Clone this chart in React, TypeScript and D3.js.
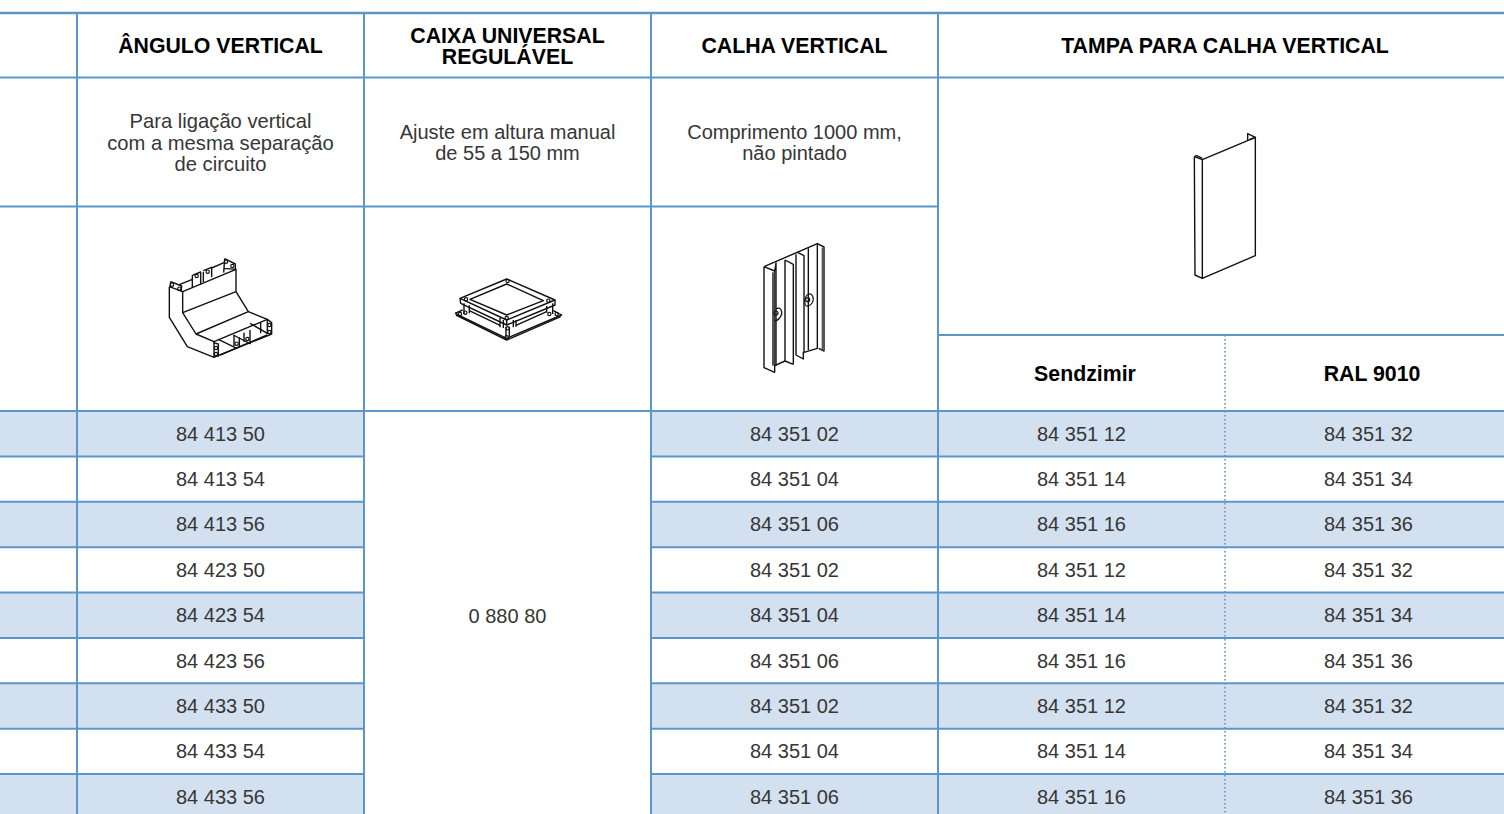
import { useEffect, useRef } from "react";
import * as d3 from "d3";

const WIDTH = 1504;
const HEIGHT = 814;
const LINE = "#5b96c8";
const STRIPE = "#d3e0ef";
const FONT = "'Liberation Sans', Arial, sans-serif";

const columnKeys = ["blank", "angulo", "caixa", "calha", "sendzimir", "ral"];
const anguloCodes = ["84 413 50", "84 413 54", "84 413 56", "84 423 50", "84 423 54", "84 423 56", "84 433 50", "84 433 54", "84 433 56"];
const calhaCodes = ["84 351 02", "84 351 04", "84 351 06", "84 351 02", "84 351 04", "84 351 06", "84 351 02", "84 351 04", "84 351 06"];
const sendzimirCodes = ["84 351 12", "84 351 14", "84 351 16", "84 351 12", "84 351 14", "84 351 16", "84 351 12", "84 351 14", "84 351 16"];
const ralCodes = ["84 351 32", "84 351 34", "84 351 36", "84 351 32", "84 351 34", "84 351 36", "84 351 32", "84 351 34", "84 351 36"];
const caixaCode = "0 880 80";

const angleHeader = "ÂNGULO VERTICAL";
const caixaHeader = ["CAIXA UNIVERSAL", "REGULÁVEL"];
const calhaHeader = "CALHA VERTICAL";
const tampaHeader = "TAMPA PARA CALHA VERTICAL";
const angleNote = ["Para ligação vertical", "com a mesma separação", "de circuito"];
const caixaNote = ["Ajuste em altura manual", "de 55 a 150 mm"];
const calhaNote = ["Comprimento 1000 mm,", "não pintado"];
const subHeaders = ["Sendzimir", "RAL 9010"];

// product line drawings at 3x
const iconAngulo = [
  "M118,140 L118,232 L172,320 L252,352 L252,305 L198,282 L158,218 L158,155 L118,140",
  "M158,155 L318,88 L318,155 L355,215 L198,282",
  "M158,218 L318,155",
  "M122,125 L155,138 L153,155 M122,125 L120,142",
  "M148,134 L187,118 L187,142 M187,106 L187,118 M187,106 L212,96 L212,132",
  "M220,95 L220,126 M220,92 L245,82 L245,112 M245,84 L282,68",
  "M284,56 L316,72 L316,90 M284,56 L281,98 M281,85 L318,88",
  "M252,305 L412,238 L412,282 M355,215 L412,238 M252,352 L425,282 L425,248 L412,238",
  "M250,308 L265,312 L265,350 M265,298 L322,326 M310,285 L362,312 M360,250 L412,280",
  "M312,285 L312,318 M328,292 L328,322 M342,278 L342,305 M360,270 L360,312 M392,248 L392,280",
  "M270,345 L412,285",
];
const iconAnguloHoles = [[126, 134], [148, 146], [200, 108], [233, 95], [288, 65], [307, 78], [258, 324], [258, 342], [320, 311], [352, 297], [418, 255], [418, 276]];

const iconCaixa = [
  "M60,85 L200,27 L345,90 L200,150 Z",
  "M90,88 L200,42 L310,92 L200,135 Z",
  "M60,85 L62,100 L200,165 L345,105 L345,90",
  "M200,150 L200,165",
  "M72,100 L72,132 M88,106 L88,130 M88,122 L180,166",
  "M228,150 L228,170 M320,108 L320,128 M338,100 L338,132 M228,166 L320,125",
  "M180,144 L180,172 M190,150 L190,174 M220,150 L220,172",
  "M45,130 L68,120 M45,130 L200,205 L365,135 L340,122",
  "M48,135 L200,210 L362,140",
  "M198,170 L198,200 M208,170 L208,200",
];
const iconCaixaHoles = [[203, 33], [78, 88], [325, 92], [200, 144], [76, 128], [328, 132], [203, 175], [60, 132], [350, 132], [200, 202]];

const iconCalha = [
  "M72,95 L232,26 L252,36 L252,348 L236,340",
  "M232,26 L232,340 L192,352",
  "M72,95 L72,398 L104,412 L104,108 L72,95",
  "M104,108 L108,84 L108,392",
  "M104,392 L135,378 L160,388 M135,75 L135,378 M135,75 L160,88 L160,388",
  "M168,58 L168,360 L190,372 L190,350 M172,52 L192,62 L192,352",
  "M205,40 L205,345",
];
const iconCalhaThick = ["M100,112 L100,392", "M249,38 L249,346"];
const iconCalhaHoles = [[108, 234, 6], [203, 194, 6]];
const iconCalhaSwirls = [
  "M108,222 C122,212 130,232 122,244 C116,254 108,258 104,256",
  "M203,178 C218,172 224,190 216,204 C210,214 200,216 196,210 C192,200 194,186 203,178",
];

const iconTampa = [
  "M73,95 L97,104 L97,460 L75,450 L73,95",
  "M73,95 L80,92 L97,100",
  "M97,104 L256,37 L256,392 L97,460",
  "M233,46 L233,26 L256,37",
  "M238,44 L256,37",
];

const App = () => {
  const ref = useRef<SVGSVGElement | null>(null);

  useEffect(() => {
    if (!ref.current) return;
    const svg = d3.select(ref.current);
    svg.selectAll("*").remove();

    // column edges: 0, 77, 364, 651, 938, 1225, then the page cuts the last one
    const x = d3.scaleOrdinal<string, number>().domain(columnKeys).range([0, 77, 364, 651, 938, 1225]);
    const colWidth = 287;
    const cx = (key: string) => (key === "blank" ? 38 : x(key) + colWidth / 2);

    const rowIdx = d3.range(anguloCodes.length);
    const y = d3.scaleLinear().domain([0, anguloCodes.length]).range([411, 819.4]);

    const hLine = (x1: number, x2: number, yy: number, w = 2) =>
      svg.append("line").attr("x1", x1).attr("x2", x2).attr("y1", yy).attr("y2", yy).attr("stroke", LINE).attr("stroke-width", w);
    const vLine = (xx: number, y1: number, y2: number, w = 2) =>
      svg.append("line").attr("x1", xx).attr("x2", xx).attr("y1", y1).attr("y2", y2).attr("stroke", LINE).attr("stroke-width", w);

    const label = (txt: string, xx: number, yy: number, size: number, weight = "normal", fill = "#363636") =>
      svg
        .append("text")
        .attr("x", xx)
        .attr("y", yy)
        .attr("text-anchor", "middle")
        .attr("dominant-baseline", "central")
        .attr("font-family", FONT)
        .attr("font-size", size)
        .attr("font-weight", weight)
        .attr("fill", fill)
        .text(txt);

    // stripes, leaving the merged caixa cell white
    rowIdx
      .filter((i) => i % 2 === 0)
      .forEach((i) => {
        [
          [0, x("caixa")],
          [x("calha"), WIDTH],
        ].forEach(([a, b]) => {
          svg.append("rect").attr("x", a).attr("y", y(i)).attr("width", b - a).attr("height", y(i + 1) - y(i)).attr("fill", STRIPE);
        });
      });

    // rules
    hLine(0, WIDTH, 13, 2.5);
    hLine(0, WIDTH, 77.5);
    hLine(0, x("sendzimir"), 206.5);
    hLine(x("sendzimir"), WIDTH, 335);
    rowIdx.forEach((i) => {
      if (i === 0) {
        hLine(0, WIDTH, y(0));
      } else {
        hLine(0, x("caixa"), y(i));
        hLine(x("calha"), WIDTH, y(i));
      }
    });
    ["angulo", "caixa", "calha", "sendzimir"].forEach((k) => vLine(x(k), 13, HEIGHT));
    vLine(x("ral"), 335, HEIGHT, 1.6).attr("stroke-dasharray", "1.6 2.4");

    // headers
    const HEAD = 21.3;
    label(angleHeader, cx("angulo"), 45.8, HEAD, "bold", "#000");
    // two lines in one text, the accent sits on the line above as in the source
    const caixa = label("", cx("caixa"), 35.8, HEAD, "bold", "#000");
    caixaHeader.forEach((t, i) => {
      caixa.append("tspan").attr("x", cx("caixa")).attr("y", 35.8 + i * 21).text(t);
    });
    label(calhaHeader, cx("calha"), 45.8, HEAD, "bold", "#000");
    label(tampaHeader, 1225, 45.8, HEAD, "bold", "#000");
    label(subHeaders[0], 1085, 373.8, HEAD, "bold", "#000");
    label(subHeaders[1], 1372, 373.8, HEAD, "bold", "#000");

    // notes
    angleNote.forEach((t, i) => label(t, cx("angulo"), 121 + i * 21.5, 20.2));
    caixaNote.forEach((t, i) => label(t, cx("caixa"), 132 + i * 21, 20));
    calhaNote.forEach((t, i) => label(t, cx("calha"), 132 + i * 21, 20));

    // codes
    const columns: [string, string[]][] = [
      ["angulo", anguloCodes],
      ["calha", calhaCodes],
      ["sendzimir", sendzimirCodes],
      ["ral", ralCodes],
    ];
    columns.forEach(([k, codes]) => {
      codes.forEach((c, i) => label(c, cx(k), (y(i) + y(i + 1)) / 2, 20));
    });
    label(caixaCode, cx("caixa"), 616, 20);

    // product drawings
    const icon = (ox: number, oy: number, paths: string[], w = 4.2) => {
      const g = svg.append("g").attr("transform", `translate(${ox},${oy}) scale(${1 / 3})`);
      paths.forEach((d) =>
        g.append("path").attr("d", d).attr("fill", "none").attr("stroke", "#111").attr("stroke-width", w).attr("stroke-linejoin", "round"),
      );
      return g;
    };
    const holes = (g: any, pts: number[][], r = 5) =>
      pts.forEach((p) =>
        g.append("circle").attr("cx", p[0]).attr("cy", p[1]).attr("r", p[2] ?? r).attr("fill", "none").attr("stroke", "#111").attr("stroke-width", 3.5),
      );

    holes(icon(130, 240, iconAngulo), iconAnguloHoles);
    holes(icon(440, 270, iconCaixa, 4.2), iconCaixaHoles, 5);
    const calha = icon(740, 235, iconCalha);
    iconCalhaThick.forEach((d) => calha.append("path").attr("d", d).attr("fill", "none").attr("stroke", "#555").attr("stroke-width", 8));
    iconCalhaSwirls.forEach((d) => calha.append("path").attr("d", d).attr("fill", "none").attr("stroke", "#111").attr("stroke-width", 3.5));
    holes(calha, iconCalhaHoles);
    icon(1170, 125, iconTampa);
  }, []);

  return (
    <svg
      ref={ref}
      width={WIDTH}
      height={HEIGHT}
      style={{ position: "absolute", left: 0, top: 0, display: "block", background: "#fff" }}
    />
  );
};

export default App;
